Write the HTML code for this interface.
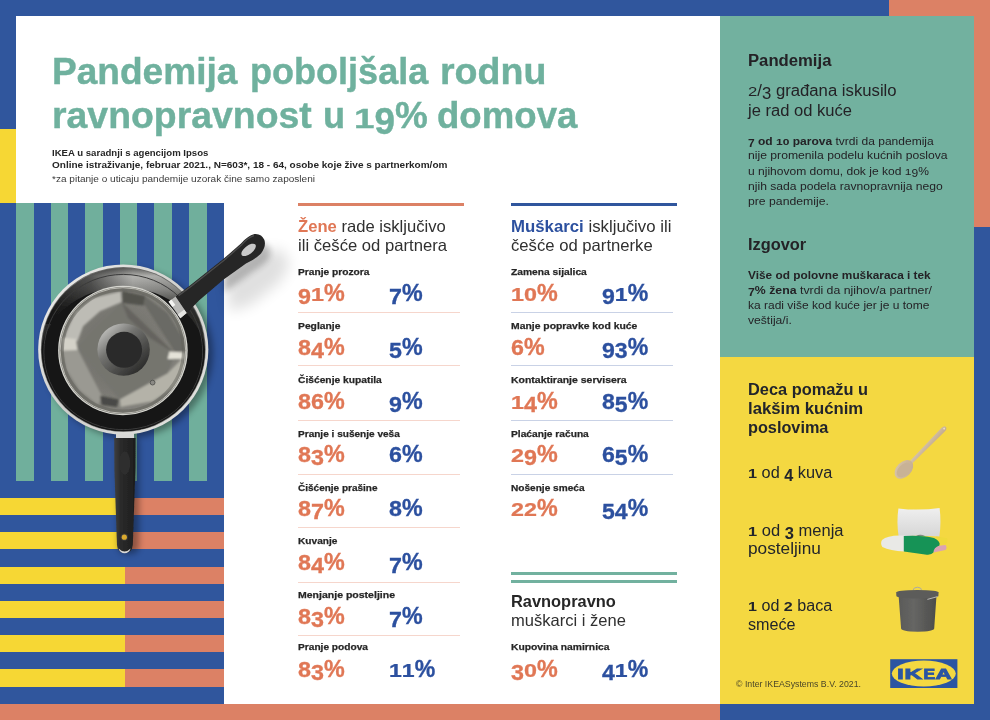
<!DOCTYPE html>
<html lang="sr">
<head>
<meta charset="utf-8">
<title>Pandemija poboljšala rodnu ravnopravnost u 19% domova</title>
<style>
html,body{margin:0;padding:0;background:#fff;}
#page{position:relative;width:990px;height:720px;overflow:hidden;background:#fff;font-family:"Liberation Sans",sans-serif;}
.b{position:absolute;}
.t{position:absolute;white-space:pre;line-height:1;transform-origin:0 0;}
svg{position:absolute;overflow:visible;}

</style>
</head>
<body>
<div id="page">
<!-- frame bands -->
<div class="b" style="left:0;top:0;width:889px;height:16px;background:#30569D"></div>
<div class="b" style="left:889px;top:0;width:101px;height:16px;background:#DC8165"></div>
<div class="b" style="left:974px;top:0;width:16px;height:227px;background:#DC8165"></div>
<div class="b" style="left:974px;top:227px;width:16px;height:493px;background:#30569D"></div>
<div class="b" style="left:0;top:704px;width:720px;height:16px;background:#DC8165"></div>
<div class="b" style="left:720px;top:704px;width:270px;height:16px;background:#30569D"></div>
<div class="b" style="left:0;top:0;width:16px;height:129px;background:#30569D"></div>
<div class="b" style="left:0;top:129px;width:16px;height:74px;background:#F6D734"></div>
<!-- right panels -->
<div class="b" style="left:720px;top:16px;width:254px;height:341px;background:#72B19F"></div>
<div class="b" style="left:720px;top:357px;width:254px;height:347px;background:#F4D841"></div>
<!-- striped block -->
<div class="b" style="left:0;top:203px;width:224px;height:501px;background:#30569D"></div>
<div class="b" style="left:16px;top:203px;width:190.7px;height:277.8px;background:repeating-linear-gradient(90deg,#70AF9C 0,#70AF9C 17.6px,transparent 17.6px,transparent 34.6px)"></div>
<div class="b" style="left:0;top:498px;width:125px;height:206px;background:repeating-linear-gradient(180deg,#F6D734 0,#F6D734 17.15px,transparent 17.15px,transparent 34.3px)"></div>
<div class="b" style="left:125px;top:498px;width:99px;height:206px;background:repeating-linear-gradient(180deg,#DC8165 0,#DC8165 17.15px,transparent 17.15px,transparent 34.3px)"></div>
<!-- column bars -->
<div class="b" style="left:297.7px;top:202.8px;width:166.1px;height:3.7px;background:#DC8165"></div>
<div class="b" style="left:510.7px;top:202.8px;width:166.2px;height:3.7px;background:#30569D"></div>
<div class="b" style="left:510.7px;top:571.7px;width:166.2px;height:3.8px;background:#72B19F"></div>
<div class="b" style="left:510.7px;top:579.7px;width:166.2px;height:3.8px;background:#72B19F"></div>
<!-- dividers -->
<div class="b" style="left:297.7px;top:312.10px;width:162.2px;height:1px;background:#F6D6CC"></div>
<div class="b" style="left:297.7px;top:365.10px;width:162.2px;height:1px;background:#F6D6CC"></div>
<div class="b" style="left:297.7px;top:420.30px;width:162.2px;height:1px;background:#F6D6CC"></div>
<div class="b" style="left:297.7px;top:473.90px;width:162.2px;height:1px;background:#F6D6CC"></div>
<div class="b" style="left:297.7px;top:527.00px;width:162.2px;height:1px;background:#F6D6CC"></div>
<div class="b" style="left:297.7px;top:581.90px;width:162.2px;height:1px;background:#F6D6CC"></div>
<div class="b" style="left:297.7px;top:634.80px;width:162.2px;height:1px;background:#F6D6CC"></div>
<div class="b" style="left:510.6px;top:312.10px;width:162.2px;height:1px;background:#C9D2E6"></div>
<div class="b" style="left:510.6px;top:365.10px;width:162.2px;height:1px;background:#C9D2E6"></div>
<div class="b" style="left:510.6px;top:420.30px;width:162.2px;height:1px;background:#C9D2E6"></div>
<div class="b" style="left:510.6px;top:473.90px;width:162.2px;height:1px;background:#C9D2E6"></div>
<!-- cookware illustration -->
<svg class="art" style="left:0;top:0" width="990" height="720" viewBox="0 0 990 720" aria-hidden="true">
<defs>
  <filter id="blur6" x="-50%" y="-50%" width="200%" height="200%"><feGaussianBlur stdDeviation="7"/></filter>
  <filter id="blur3" x="-50%" y="-50%" width="200%" height="200%"><feGaussianBlur stdDeviation="3"/></filter>
  <filter id="blur1" x="-20%" y="-20%" width="140%" height="140%"><feGaussianBlur stdDeviation="1.2"/></filter>
  <filter id="soft" x="-5%" y="-5%" width="110%" height="110%"><feGaussianBlur stdDeviation="0.45"/></filter>
  <linearGradient id="rimG" x1="0" y1="0" x2="1" y2="1">
    <stop offset="0" stop-color="#f1f1ef"/><stop offset=".5" stop-color="#cfcfcc"/><stop offset="1" stop-color="#e6e6e3"/>
  </linearGradient>
  <linearGradient id="wallG" x1="0" y1="0" x2="0" y2="1">
    <stop offset="0" stop-color="#5f5f5d"/><stop offset=".05" stop-color="#b4b4b1"/><stop offset=".13" stop-color="#8e8e8b"/><stop offset=".26" stop-color="#2e2e2d"/><stop offset="1" stop-color="#141414"/>
  </linearGradient>
  <linearGradient id="wallS" x1="0" y1="0" x2="1" y2="0">
    <stop offset="0" stop-color="#141414" stop-opacity=".9"/><stop offset=".3" stop-color="#141414" stop-opacity=".6"/><stop offset=".55" stop-color="#141414" stop-opacity="0"/><stop offset="1" stop-color="#141414" stop-opacity=".15"/>
  </linearGradient>
  <radialGradient id="potG" cx=".45" cy=".48" r=".6">
    <stop offset="0" stop-color="#6d6c67"/><stop offset=".6" stop-color="#7b7a74"/><stop offset=".9" stop-color="#85847e"/><stop offset="1" stop-color="#8f8e88"/>
  </radialGradient>
  <linearGradient id="knobG" x1="0.15" y1="0.1" x2="0.85" y2="0.9">
    <stop offset="0" stop-color="#bdbdba"/><stop offset=".35" stop-color="#737370"/><stop offset="1" stop-color="#2a2a29"/>
  </linearGradient>
  <linearGradient id="hG" x1="0" y1="0" x2="1" y2="0">
    <stop offset="0" stop-color="#3f3f3f"/><stop offset=".3" stop-color="#2b2b2b"/><stop offset="1" stop-color="#1d1d1d"/>
  </linearGradient>
  <clipPath id="panClip"><circle cx="123.25" cy="349.5" r="81.6"/></clipPath>
  <clipPath id="potClip"><circle cx="122.9" cy="350.5" r="63.4"/></clipPath>
</defs>
<!-- shadows -->
<g filter="url(#blur6)" opacity=".12">
  <path d="M226 282 L246 266 L266 250 L282 250 L290 264 L280 282 L252 304 L230 312 Z" fill="#000"/>
</g>
<g filter="url(#blur3)" opacity=".24">
  <path d="M224 270 L247 251 Q254 243 262 243 Q268 244 270 250 Q271 257 266 262 Q260 267 252 272 L230 288 L224 292 Z" fill="#000"/>
</g>
<g filter="url(#blur3)" opacity=".35">
  <circle cx="128" cy="353" r="85" fill="#000"/>
  <rect x="118" y="436" width="21" height="118" rx="8" fill="#000"/>
</g>
<g filter="url(#soft)">
<!-- frying pan handle (vertical) -->
<rect x="116" y="432" width="18" height="7" fill="#d8d8d6"/>
<path d="M114.2 438 L135.6 438 L135.4 470 L132.8 545 Q132 553 124.8 553 Q117.6 553 117 545 L114.4 470 Z" fill="url(#hG)"/>
<path d="M118.5 548.5 Q124.6 554.5 130.7 548.5 Q129 553.2 124.6 553.2 Q120.2 553.2 118.5 548.5Z" fill="#d9d9d9"/>
<ellipse cx="124.8" cy="463" rx="5.4" ry="11.5" fill="#2f2f2f"/>
<circle cx="124.3" cy="537.2" r="3.6" fill="#3a3a3a"/>
<circle cx="124.3" cy="537.2" r="2.6" fill="#d9a92f"/>
<!-- frying pan -->
<circle cx="123.25" cy="349.5" r="85.1" fill="url(#rimG)"/>
<circle cx="123.25" cy="349.5" r="82.4" fill="#6a6a68"/>
<circle cx="123.25" cy="349.5" r="81.6" fill="url(#wallG)"/>
<g clip-path="url(#panClip)">
  <rect x="38" y="264" width="172" height="60" fill="url(#wallS)"/>
  <ellipse cx="123.25" cy="360.5" rx="83" ry="73" fill="#141414"/>
  <ellipse cx="123.25" cy="352" rx="79.4" ry="77.6" fill="none" stroke="#3b3b3b" stroke-width="1"/>
</g>
<!-- saucepan with glass lid -->
<circle cx="122.9" cy="350.5" r="64.8" fill="#d6d6d0"/>
<circle cx="122.9" cy="350.5" r="63.5" fill="url(#potG)"/>
<g clip-path="url(#potClip)">
  <g filter="url(#blur1)">
    <!-- inner wall: bright upper-left band, darker right side -->
    <path d="M66.3 331.9 L75.6 311.3 L92.5 298.1 L120.7 291.6 L121.6 301.9 L100 311.3 L83.1 326.3 L77.5 341.3 L64.4 339.4 Z" fill="#bdbcb5"/>
    <path d="M62.5 350.7 L77.5 348.8 L101.9 395.7 L98.2 405 L79.4 390 L66.3 369.4 Z" fill="#9a9992"/>
    <path d="M119.7 397.6 L167.6 373.2 L182.6 358.2 L184.5 365.7 L175.1 386.3 L152.6 401.3 L120.7 407 Z" fill="#b4b2a8"/>
    <path d="M122.5 291.6 L145 296.3 L167.6 313.1 L182.6 337.5 L184.5 350.7 L175.1 352.5 L145 305.6 L122.5 302.8 Z" fill="#6b6a65"/>
    <path d="M122.5 291 L145 296 L143.2 305.6 L122.5 302.8 Z" fill="#53524d"/>
    <!-- pot bottom seen through the glass -->
    <path d="M121.6 301.9 L175.1 353.5 L167.6 373.2 L119.7 399.4 L76.6 346.9 Z" fill="#75746e"/>
    <path d="M121.6 301.9 L175.1 353.5 L150 338 L128 318 Z" fill="#65645e"/>
    <path d="M100 395.7 L118.8 399.4 L116.9 407 L101.9 405 Z" fill="#4a4a46"/>
    <path d="M169.4 351.6 L184.5 352.5 L184.5 359.1 L167.6 359.1 Z" fill="#e4e2d8"/>
    <path d="M62.5 337.5 L76 339 L77.5 350 L62.5 350.7 Z" fill="#d4d2c8"/>
  </g>
  <circle cx="122.9" cy="350.5" r="60.8" fill="none" stroke="#5b5a55" stroke-width="3.6" opacity=".45"/>
  <circle cx="122.9" cy="350.5" r="62.8" fill="none" stroke="#c9c8c0" stroke-width="1" opacity=".8"/>
</g>
<circle cx="152.6" cy="382.6" r="2.4" fill="#8b8a85" stroke="#4a4a48" stroke-width=".8"/>
<!-- knob -->
<circle cx="123.6" cy="349.6" r="26.2" fill="url(#knobG)"/>
<circle cx="124.1" cy="349.8" r="18" fill="#2a2a2a"/>
<!-- saucepan handle -->
<path d="M168.6 301.8 L176 296.2 L187.2 312.6 L180.4 318.2 Z" fill="#b9b9b7"/>
<path d="M168.6 301.8 L171.4 299.6 L175.4 305 L172.4 307 Z" fill="#f4f4f2"/>
<path d="M177.6 314.4 L184.4 309.4 L187.2 312.6 L180.4 318.2 Z" fill="#e4e4e2"/>
<path d="M175.6 296.4 L190.6 285.0 L223.6 258.8 L241 243.4 Q247.5 236 254.5 234 Q261.6 233.4 264.4 240 Q266.4 246.6 261 253.4 Q256 258.6 246 263.6 L223.6 279.6 L199 300.6 L186.8 313 Z" fill="#252525"/>
<path d="M178.5 295.6 L191.6 286.0 L224.4 260 L242 244.4 Q248 237.4 254 235.6" fill="none" stroke="#4c4c4c" stroke-width="1.4"/>
<ellipse cx="248.6" cy="249.9" rx="8.6" ry="4.1" transform="rotate(-38 248.6 249.9)" fill="#c9c9c9"/>
</g>
</svg>
<!-- small product pictures + logo -->
<svg class="art" style="left:0;top:0" width="990" height="720" viewBox="0 0 990 720" aria-hidden="true">
<defs>
  <filter id="isoft" x="-10%" y="-10%" width="120%" height="120%"><feGaussianBlur stdDeviation="0.5"/></filter>
  <linearGradient id="spG" x1="0" y1="0" x2="1" y2="1"><stop offset="0" stop-color="#d9c6ac"/><stop offset="1" stop-color="#c3ab8e"/></linearGradient>
  <linearGradient id="pilG" x1="0" y1="0" x2="0" y2="1"><stop offset="0" stop-color="#efefef"/><stop offset="1" stop-color="#d6d6d6"/></linearGradient>
  <linearGradient id="binG" x1="0" y1="0" x2="1" y2="0"><stop offset="0" stop-color="#5a5a58"/><stop offset=".4" stop-color="#666664"/><stop offset="1" stop-color="#4c4c4a"/></linearGradient>
</defs>
<g filter="url(#isoft)">
  <!-- wooden spoon -->
  <g transform="rotate(-45.5 903.9 469.4)">
    <path d="M910 468 L960 467.1 Q963.6 467.2 963.6 469.5 Q963.6 471.8 960 471.9 L910 471 Z" fill="url(#spG)"/>
    <ellipse cx="903.9" cy="469.4" rx="11" ry="7.4" fill="url(#spG)"/>
    <ellipse cx="903.4" cy="469.8" rx="8.6" ry="5.4" fill="#c8b296"/>
    <circle cx="961.2" cy="469.5" r="1" fill="#eadcc6"/>
  </g>
  <!-- pillow and bed linen -->
  <path d="M898.4 508.4 Q919 511 939.6 508 Q941.4 522 939.4 536.6 Q919 535 898.6 536.4 Q896.4 522 898.4 508.4Z" fill="url(#pilG)"/>
  <path d="M882 540 Q888 534.6 904.4 535.6 L904.4 551.4 Q890 551 882.4 547 Q880 543.6 882 540Z" fill="#e9e9e6"/>
  <path d="M936 536.6 L946.6 538 Q948.6 540.6 946 544 L938 545 Z" fill="#efd93b"/>
  <path d="M932 546.4 L945.6 545 Q947.6 548 945.4 550 L933.6 552.4 Z" fill="#dba3b4"/>
  <path d="M903.8 536 Q922 535 934 538 Q941 541.6 939.4 545.6 Q933.6 547.6 933.4 552.6 Q931.4 555.4 925 554.4 L903.8 551.4 Z" fill="#169357"/>
  <path d="M916 536 Q920 533.6 925 535.8 Z" fill="#6a7f73"/>
  <!-- waste bin -->
  <path d="M898.7 597 L936.4 597 L934.2 628.6 Q934 631.6 917.6 631.8 Q901.4 631.6 901.1 628.6 Z" fill="url(#binG)"/>
  <path d="M912.9 590.6 Q913.4 587.2 917.4 587.2 Q921.4 587.2 921.8 590.6" fill="none" stroke="#a9a9a5" stroke-width="1"/>
  <path d="M896.2 592.6 Q896.6 590.2 917.4 590 Q938.2 590.2 938.6 592.6 L938.4 596 Q938 598.2 917.4 598.4 Q896.8 598.2 896.4 596 Z" fill="#5c5c5a"/>
  <path d="M927.4 599.4 L937.6 596.6" stroke="#b9b9b6" stroke-width="1"/>
</g>
<!-- IKEA logo -->
<rect x="890.2" y="659.2" width="67.2" height="28.8" fill="#2B55A2"/>
<ellipse cx="923.8" cy="673.6" rx="32" ry="13" fill="#F4D841"/>
<text font-family="'Liberation Sans',sans-serif" font-weight="700" font-size="14.4" fill="#2B55A2" stroke="#2B55A2" stroke-width="0.9" stroke-linejoin="miter"><tspan x="897.3" y="678.8" textLength="6.4" lengthAdjust="spacingAndGlyphs">I</tspan><tspan x="904.6" y="678.8" textLength="17.6" lengthAdjust="spacingAndGlyphs">K</tspan><tspan x="923.6" y="678.8" textLength="11.6" lengthAdjust="spacingAndGlyphs">E</tspan><tspan x="935.4" y="678.8" textLength="16.2" lengthAdjust="spacingAndGlyphs">A</tspan></text>
</svg>

<div class="t " style="left:52.40px;top:53px;font-size:37px;transform:scaleX(1.0017)"><span style="font-weight:700;color:#6FB19E;-webkit-text-stroke:0.4px #6FB19E">Pandemija</span></div>
<div class="t " style="left:249.85px;top:53px;font-size:37px;transform:scaleX(0.9741)"><span style="font-weight:700;color:#6FB19E;-webkit-text-stroke:0.4px #6FB19E">poboljšala</span></div>
<div class="t " style="left:439.77px;top:53px;font-size:37px;transform:scaleX(1.0148)"><span style="font-weight:700;color:#6FB19E;-webkit-text-stroke:0.4px #6FB19E">rodnu</span></div>
<div class="t " style="left:52.38px;top:97px;font-size:37px;transform:scaleX(1.0106)"><span style="font-weight:700;color:#6FB19E;-webkit-text-stroke:0.4px #6FB19E">ravnopravnost</span></div>
<div class="t " style="left:322.84px;top:97px;font-size:37px;transform:scaleX(0.9789)"><span style="font-weight:700;color:#6FB19E;-webkit-text-stroke:0.4px #6FB19E">u</span></div>
<div class="t " style="left:353.51px;top:97px;font-size:37px;transform:scaleX(0.9964)"><span style="font-weight:700;color:#6FB19E;-webkit-text-stroke:0.4px #6FB19E;display:inline-block;transform-origin:0 84.65%;transform:scaleY(0.77)">1</span><span style="font-weight:700;color:#6FB19E;-webkit-text-stroke:0.4px #6FB19E;display:inline-block;transform:translateY(6.29px)">9</span><span style="font-weight:700;color:#6FB19E;-webkit-text-stroke:0.4px #6FB19E">%</span></div>
<div class="t " style="left:437.21px;top:97px;font-size:37px;transform:scaleX(0.9895)"><span style="font-weight:700;color:#6FB19E;-webkit-text-stroke:0.4px #6FB19E">domova</span></div>
<div class="t " style="left:52.00px;top:148px;font-size:9.7px;transform:scaleX(0.9904)"><span style="font-weight:700;color:#262626">IKEA u saradnji s agencijom Ipsos</span></div>
<div class="t " style="left:52.00px;top:160px;font-size:9.7px;transform:scaleX(1.0321)"><span style="font-weight:700;color:#262626">Online istraživanje, februar 2021., N=603*, 18 - 64, osobe koje žive s partnerkom/om</span></div>
<div class="t " style="left:52.00px;top:174px;font-size:9.7px;transform:scaleX(1.0369)"><span style="color:#3a3a3a">*za pitanje o uticaju pandemije uzorak čine samo zaposleni</span></div>
<div class="t " style="left:297.70px;top:218px;font-size:16.5px;transform:scaleX(1.0066)"><span style="font-weight:700;color:#E07755">Žene</span><span style="color:#303030"> rade isključivo</span></div>
<div class="t " style="left:297.70px;top:237px;font-size:16.5px;transform:scaleX(1.0090)"><span style="color:#303030">ili češće od partnera</span></div>
<div class="t lab" style="left:297.70px;top:267px;font-size:9.8px;transform:scaleX(1.0407)"><span style="font-weight:700;color:#262626;-webkit-text-stroke:0.25px #262626">Pranje prozora</span></div>
<div class="t num" style="left:297.70px;top:283px;font-size:21px;transform:scaleX(1.1103)"><span style="font-weight:700;color:#E07755;display:inline-block;transform-origin:0 84.65%;transform:translateY(3.0px) scaleY(1.05);-webkit-text-stroke:0.3px #E07755">9</span><span style="font-weight:700;color:#E07755;display:inline-block;transform-origin:0 84.65%;transform:translateY(0px) scaleY(0.83);-webkit-text-stroke:0.3px #E07755">1</span><span style="font-weight:700;color:#E07755;display:inline-block;transform-origin:0 84.65%;transform:translateY(0px) scaleY(1.12);-webkit-text-stroke:0.3px #E07755">%</span></div>
<div class="t num" style="left:389.30px;top:283px;font-size:21px;transform:scaleX(1.1062)"><span style="font-weight:700;color:#2C509F;display:inline-block;transform-origin:0 84.65%;transform:translateY(3.0px) scaleY(1.05);-webkit-text-stroke:0.3px #2C509F">7</span><span style="font-weight:700;color:#2C509F;display:inline-block;transform-origin:0 84.65%;transform:translateY(0px) scaleY(1.12);-webkit-text-stroke:0.3px #2C509F">%</span></div>
<div class="t lab" style="left:297.70px;top:321px;font-size:9.8px;transform:scaleX(1.0522)"><span style="font-weight:700;color:#262626;-webkit-text-stroke:0.25px #262626">Peglanje</span></div>
<div class="t num" style="left:297.70px;top:337px;font-size:21px;transform:scaleX(1.1103)"><span style="font-weight:700;color:#E07755;display:inline-block;transform-origin:0 84.65%;transform:translateY(0px) scaleY(1.03);-webkit-text-stroke:0.3px #E07755">8</span><span style="font-weight:700;color:#E07755;display:inline-block;transform-origin:0 84.65%;transform:translateY(3.0px) scaleY(1.05);-webkit-text-stroke:0.3px #E07755">4</span><span style="font-weight:700;color:#E07755;display:inline-block;transform-origin:0 84.65%;transform:translateY(0px) scaleY(1.12);-webkit-text-stroke:0.3px #E07755">%</span></div>
<div class="t num" style="left:389.30px;top:337px;font-size:21px;transform:scaleX(1.1062)"><span style="font-weight:700;color:#2C509F;display:inline-block;transform-origin:0 84.65%;transform:translateY(3.0px) scaleY(1.05);-webkit-text-stroke:0.3px #2C509F">5</span><span style="font-weight:700;color:#2C509F;display:inline-block;transform-origin:0 84.65%;transform:translateY(0px) scaleY(1.12);-webkit-text-stroke:0.3px #2C509F">%</span></div>
<div class="t lab" style="left:297.70px;top:375px;font-size:9.8px;transform:scaleX(1.0469)"><span style="font-weight:700;color:#262626;-webkit-text-stroke:0.25px #262626">Čišćenje kupatila</span></div>
<div class="t num" style="left:297.70px;top:391px;font-size:21px;transform:scaleX(1.1103)"><span style="font-weight:700;color:#E07755;display:inline-block;transform-origin:0 84.65%;transform:translateY(0px) scaleY(1.03);-webkit-text-stroke:0.3px #E07755">8</span><span style="font-weight:700;color:#E07755;display:inline-block;transform-origin:0 84.65%;transform:translateY(0px) scaleY(1.03);-webkit-text-stroke:0.3px #E07755">6</span><span style="font-weight:700;color:#E07755;display:inline-block;transform-origin:0 84.65%;transform:translateY(0px) scaleY(1.12);-webkit-text-stroke:0.3px #E07755">%</span></div>
<div class="t num" style="left:389.30px;top:391px;font-size:21px;transform:scaleX(1.1062)"><span style="font-weight:700;color:#2C509F;display:inline-block;transform-origin:0 84.65%;transform:translateY(3.0px) scaleY(1.05);-webkit-text-stroke:0.3px #2C509F">9</span><span style="font-weight:700;color:#2C509F;display:inline-block;transform-origin:0 84.65%;transform:translateY(0px) scaleY(1.12);-webkit-text-stroke:0.3px #2C509F">%</span></div>
<div class="t lab" style="left:297.70px;top:429px;font-size:9.8px;transform:scaleX(1.0270)"><span style="font-weight:700;color:#262626;-webkit-text-stroke:0.25px #262626">Pranje i sušenje veša</span></div>
<div class="t num" style="left:297.70px;top:444px;font-size:21px;transform:scaleX(1.1103)"><span style="font-weight:700;color:#E07755;display:inline-block;transform-origin:0 84.65%;transform:translateY(0px) scaleY(1.03);-webkit-text-stroke:0.3px #E07755">8</span><span style="font-weight:700;color:#E07755;display:inline-block;transform-origin:0 84.65%;transform:translateY(3.0px) scaleY(1.05);-webkit-text-stroke:0.3px #E07755">3</span><span style="font-weight:700;color:#E07755;display:inline-block;transform-origin:0 84.65%;transform:translateY(0px) scaleY(1.12);-webkit-text-stroke:0.3px #E07755">%</span></div>
<div class="t num" style="left:389.30px;top:444px;font-size:21px;transform:scaleX(1.1062)"><span style="font-weight:700;color:#2C509F;display:inline-block;transform-origin:0 84.65%;transform:translateY(0px) scaleY(1.03);-webkit-text-stroke:0.3px #2C509F">6</span><span style="font-weight:700;color:#2C509F;display:inline-block;transform-origin:0 84.65%;transform:translateY(0px) scaleY(1.12);-webkit-text-stroke:0.3px #2C509F">%</span></div>
<div class="t lab" style="left:297.70px;top:483px;font-size:9.8px;transform:scaleX(1.0209)"><span style="font-weight:700;color:#262626;-webkit-text-stroke:0.25px #262626">Čišćenje prašine</span></div>
<div class="t num" style="left:297.70px;top:498px;font-size:21px;transform:scaleX(1.1103)"><span style="font-weight:700;color:#E07755;display:inline-block;transform-origin:0 84.65%;transform:translateY(0px) scaleY(1.03);-webkit-text-stroke:0.3px #E07755">8</span><span style="font-weight:700;color:#E07755;display:inline-block;transform-origin:0 84.65%;transform:translateY(3.0px) scaleY(1.05);-webkit-text-stroke:0.3px #E07755">7</span><span style="font-weight:700;color:#E07755;display:inline-block;transform-origin:0 84.65%;transform:translateY(0px) scaleY(1.12);-webkit-text-stroke:0.3px #E07755">%</span></div>
<div class="t num" style="left:389.30px;top:498px;font-size:21px;transform:scaleX(1.1062)"><span style="font-weight:700;color:#2C509F;display:inline-block;transform-origin:0 84.65%;transform:translateY(0px) scaleY(1.03);-webkit-text-stroke:0.3px #2C509F">8</span><span style="font-weight:700;color:#2C509F;display:inline-block;transform-origin:0 84.65%;transform:translateY(0px) scaleY(1.12);-webkit-text-stroke:0.3px #2C509F">%</span></div>
<div class="t lab" style="left:297.70px;top:536px;font-size:9.8px;transform:scaleX(1.0334)"><span style="font-weight:700;color:#262626;-webkit-text-stroke:0.25px #262626">Kuvanje</span></div>
<div class="t num" style="left:297.70px;top:552px;font-size:21px;transform:scaleX(1.1103)"><span style="font-weight:700;color:#E07755;display:inline-block;transform-origin:0 84.65%;transform:translateY(0px) scaleY(1.03);-webkit-text-stroke:0.3px #E07755">8</span><span style="font-weight:700;color:#E07755;display:inline-block;transform-origin:0 84.65%;transform:translateY(3.0px) scaleY(1.05);-webkit-text-stroke:0.3px #E07755">4</span><span style="font-weight:700;color:#E07755;display:inline-block;transform-origin:0 84.65%;transform:translateY(0px) scaleY(1.12);-webkit-text-stroke:0.3px #E07755">%</span></div>
<div class="t num" style="left:389.30px;top:552px;font-size:21px;transform:scaleX(1.1062)"><span style="font-weight:700;color:#2C509F;display:inline-block;transform-origin:0 84.65%;transform:translateY(3.0px) scaleY(1.05);-webkit-text-stroke:0.3px #2C509F">7</span><span style="font-weight:700;color:#2C509F;display:inline-block;transform-origin:0 84.65%;transform:translateY(0px) scaleY(1.12);-webkit-text-stroke:0.3px #2C509F">%</span></div>
<div class="t lab" style="left:297.70px;top:590px;font-size:9.8px;transform:scaleX(1.0733)"><span style="font-weight:700;color:#262626;-webkit-text-stroke:0.25px #262626">Menjanje posteljine</span></div>
<div class="t num" style="left:297.70px;top:606px;font-size:21px;transform:scaleX(1.1103)"><span style="font-weight:700;color:#E07755;display:inline-block;transform-origin:0 84.65%;transform:translateY(0px) scaleY(1.03);-webkit-text-stroke:0.3px #E07755">8</span><span style="font-weight:700;color:#E07755;display:inline-block;transform-origin:0 84.65%;transform:translateY(3.0px) scaleY(1.05);-webkit-text-stroke:0.3px #E07755">3</span><span style="font-weight:700;color:#E07755;display:inline-block;transform-origin:0 84.65%;transform:translateY(0px) scaleY(1.12);-webkit-text-stroke:0.3px #E07755">%</span></div>
<div class="t num" style="left:389.30px;top:606px;font-size:21px;transform:scaleX(1.1062)"><span style="font-weight:700;color:#2C509F;display:inline-block;transform-origin:0 84.65%;transform:translateY(3.0px) scaleY(1.05);-webkit-text-stroke:0.3px #2C509F">7</span><span style="font-weight:700;color:#2C509F;display:inline-block;transform-origin:0 84.65%;transform:translateY(0px) scaleY(1.12);-webkit-text-stroke:0.3px #2C509F">%</span></div>
<div class="t lab" style="left:297.70px;top:642px;font-size:9.8px;transform:scaleX(1.0368)"><span style="font-weight:700;color:#262626;-webkit-text-stroke:0.25px #262626">Pranje podova</span></div>
<div class="t num" style="left:297.70px;top:659px;font-size:21px;transform:scaleX(1.1103)"><span style="font-weight:700;color:#E07755;display:inline-block;transform-origin:0 84.65%;transform:translateY(0px) scaleY(1.03);-webkit-text-stroke:0.3px #E07755">8</span><span style="font-weight:700;color:#E07755;display:inline-block;transform-origin:0 84.65%;transform:translateY(3.0px) scaleY(1.05);-webkit-text-stroke:0.3px #E07755">3</span><span style="font-weight:700;color:#E07755;display:inline-block;transform-origin:0 84.65%;transform:translateY(0px) scaleY(1.12);-webkit-text-stroke:0.3px #E07755">%</span></div>
<div class="t num" style="left:389.30px;top:659px;font-size:21px;transform:scaleX(1.0984)"><span style="font-weight:700;color:#2C509F;display:inline-block;transform-origin:0 84.65%;transform:translateY(0px) scaleY(0.83);-webkit-text-stroke:0.3px #2C509F">1</span><span style="font-weight:700;color:#2C509F;display:inline-block;transform-origin:0 84.65%;transform:translateY(0px) scaleY(0.83);-webkit-text-stroke:0.3px #2C509F">1</span><span style="font-weight:700;color:#2C509F;display:inline-block;transform-origin:0 84.65%;transform:translateY(0px) scaleY(1.12);-webkit-text-stroke:0.3px #2C509F">%</span></div>
<div class="t " style="left:510.70px;top:218px;font-size:16.5px;transform:scaleX(1.0169)"><span style="font-weight:700;color:#2C509F">Muškarci</span><span style="color:#303030"> isključivo ili</span></div>
<div class="t " style="left:510.70px;top:237px;font-size:16.5px;transform:scaleX(1.0097)"><span style="color:#303030">češće od partnerke</span></div>
<div class="t lab" style="left:510.70px;top:267px;font-size:9.8px;transform:scaleX(1.0464)"><span style="font-weight:700;color:#262626;-webkit-text-stroke:0.25px #262626">Zamena sijalica</span></div>
<div class="t num" style="left:510.70px;top:283px;font-size:21px;transform:scaleX(1.1103)"><span style="font-weight:700;color:#E07755;display:inline-block;transform-origin:0 84.65%;transform:translateY(0px) scaleY(0.83);-webkit-text-stroke:0.3px #E07755">1</span><span style="font-weight:700;color:#E07755;display:inline-block;transform-origin:0 84.65%;transform:translateY(0px) scaleY(0.83);-webkit-text-stroke:0.3px #E07755">0</span><span style="font-weight:700;color:#E07755;display:inline-block;transform-origin:0 84.65%;transform:translateY(0px) scaleY(1.12);-webkit-text-stroke:0.3px #E07755">%</span></div>
<div class="t num" style="left:602.40px;top:283px;font-size:21px;transform:scaleX(1.0984)"><span style="font-weight:700;color:#2C509F;display:inline-block;transform-origin:0 84.65%;transform:translateY(3.0px) scaleY(1.05);-webkit-text-stroke:0.3px #2C509F">9</span><span style="font-weight:700;color:#2C509F;display:inline-block;transform-origin:0 84.65%;transform:translateY(0px) scaleY(0.83);-webkit-text-stroke:0.3px #2C509F">1</span><span style="font-weight:700;color:#2C509F;display:inline-block;transform-origin:0 84.65%;transform:translateY(0px) scaleY(1.12);-webkit-text-stroke:0.3px #2C509F">%</span></div>
<div class="t lab" style="left:510.70px;top:321px;font-size:9.8px;transform:scaleX(1.0591)"><span style="font-weight:700;color:#262626;-webkit-text-stroke:0.25px #262626">Manje popravke kod kuće</span></div>
<div class="t num" style="left:510.70px;top:337px;font-size:21px;transform:scaleX(1.1062)"><span style="font-weight:700;color:#E07755;display:inline-block;transform-origin:0 84.65%;transform:translateY(0px) scaleY(1.03);-webkit-text-stroke:0.3px #E07755">6</span><span style="font-weight:700;color:#E07755;display:inline-block;transform-origin:0 84.65%;transform:translateY(0px) scaleY(1.12);-webkit-text-stroke:0.3px #E07755">%</span></div>
<div class="t num" style="left:602.40px;top:337px;font-size:21px;transform:scaleX(1.0984)"><span style="font-weight:700;color:#2C509F;display:inline-block;transform-origin:0 84.65%;transform:translateY(3.0px) scaleY(1.05);-webkit-text-stroke:0.3px #2C509F">9</span><span style="font-weight:700;color:#2C509F;display:inline-block;transform-origin:0 84.65%;transform:translateY(3.0px) scaleY(1.05);-webkit-text-stroke:0.3px #2C509F">3</span><span style="font-weight:700;color:#2C509F;display:inline-block;transform-origin:0 84.65%;transform:translateY(0px) scaleY(1.12);-webkit-text-stroke:0.3px #2C509F">%</span></div>
<div class="t lab" style="left:510.70px;top:375px;font-size:9.8px;transform:scaleX(1.0676)"><span style="font-weight:700;color:#262626;-webkit-text-stroke:0.25px #262626">Kontaktiranje servisera</span></div>
<div class="t num" style="left:510.70px;top:391px;font-size:21px;transform:scaleX(1.1103)"><span style="font-weight:700;color:#E07755;display:inline-block;transform-origin:0 84.65%;transform:translateY(0px) scaleY(0.83);-webkit-text-stroke:0.3px #E07755">1</span><span style="font-weight:700;color:#E07755;display:inline-block;transform-origin:0 84.65%;transform:translateY(3.0px) scaleY(1.05);-webkit-text-stroke:0.3px #E07755">4</span><span style="font-weight:700;color:#E07755;display:inline-block;transform-origin:0 84.65%;transform:translateY(0px) scaleY(1.12);-webkit-text-stroke:0.3px #E07755">%</span></div>
<div class="t num" style="left:602.40px;top:391px;font-size:21px;transform:scaleX(1.0984)"><span style="font-weight:700;color:#2C509F;display:inline-block;transform-origin:0 84.65%;transform:translateY(0px) scaleY(1.03);-webkit-text-stroke:0.3px #2C509F">8</span><span style="font-weight:700;color:#2C509F;display:inline-block;transform-origin:0 84.65%;transform:translateY(3.0px) scaleY(1.05);-webkit-text-stroke:0.3px #2C509F">5</span><span style="font-weight:700;color:#2C509F;display:inline-block;transform-origin:0 84.65%;transform:translateY(0px) scaleY(1.12);-webkit-text-stroke:0.3px #2C509F">%</span></div>
<div class="t lab" style="left:510.70px;top:429px;font-size:9.8px;transform:scaleX(1.0428)"><span style="font-weight:700;color:#262626;-webkit-text-stroke:0.25px #262626">Plaćanje računa</span></div>
<div class="t num" style="left:510.70px;top:444px;font-size:21px;transform:scaleX(1.1103)"><span style="font-weight:700;color:#E07755;display:inline-block;transform-origin:0 84.65%;transform:translateY(0px) scaleY(0.83);-webkit-text-stroke:0.3px #E07755">2</span><span style="font-weight:700;color:#E07755;display:inline-block;transform-origin:0 84.65%;transform:translateY(3.0px) scaleY(1.05);-webkit-text-stroke:0.3px #E07755">9</span><span style="font-weight:700;color:#E07755;display:inline-block;transform-origin:0 84.65%;transform:translateY(0px) scaleY(1.12);-webkit-text-stroke:0.3px #E07755">%</span></div>
<div class="t num" style="left:602.40px;top:444px;font-size:21px;transform:scaleX(1.0984)"><span style="font-weight:700;color:#2C509F;display:inline-block;transform-origin:0 84.65%;transform:translateY(0px) scaleY(1.03);-webkit-text-stroke:0.3px #2C509F">6</span><span style="font-weight:700;color:#2C509F;display:inline-block;transform-origin:0 84.65%;transform:translateY(3.0px) scaleY(1.05);-webkit-text-stroke:0.3px #2C509F">5</span><span style="font-weight:700;color:#2C509F;display:inline-block;transform-origin:0 84.65%;transform:translateY(0px) scaleY(1.12);-webkit-text-stroke:0.3px #2C509F">%</span></div>
<div class="t lab" style="left:510.70px;top:483px;font-size:9.8px;transform:scaleX(1.0302)"><span style="font-weight:700;color:#262626;-webkit-text-stroke:0.25px #262626">Nošenje smeća</span></div>
<div class="t num" style="left:510.70px;top:498px;font-size:21px;transform:scaleX(1.1103)"><span style="font-weight:700;color:#E07755;display:inline-block;transform-origin:0 84.65%;transform:translateY(0px) scaleY(0.83);-webkit-text-stroke:0.3px #E07755">2</span><span style="font-weight:700;color:#E07755;display:inline-block;transform-origin:0 84.65%;transform:translateY(0px) scaleY(0.83);-webkit-text-stroke:0.3px #E07755">2</span><span style="font-weight:700;color:#E07755;display:inline-block;transform-origin:0 84.65%;transform:translateY(0px) scaleY(1.12);-webkit-text-stroke:0.3px #E07755">%</span></div>
<div class="t num" style="left:602.40px;top:498px;font-size:21px;transform:scaleX(1.0984)"><span style="font-weight:700;color:#2C509F;display:inline-block;transform-origin:0 84.65%;transform:translateY(3.0px) scaleY(1.05);-webkit-text-stroke:0.3px #2C509F">5</span><span style="font-weight:700;color:#2C509F;display:inline-block;transform-origin:0 84.65%;transform:translateY(3.0px) scaleY(1.05);-webkit-text-stroke:0.3px #2C509F">4</span><span style="font-weight:700;color:#2C509F;display:inline-block;transform-origin:0 84.65%;transform:translateY(0px) scaleY(1.12);-webkit-text-stroke:0.3px #2C509F">%</span></div>
<div class="t " style="left:510.70px;top:593px;font-size:16.5px;transform:scaleX(0.9940)"><span style="font-weight:700;color:#262626">Ravnopravno</span></div>
<div class="t " style="left:510.70px;top:612px;font-size:16.5px;transform:scaleX(1.0024)"><span style="color:#303030">muškarci i žene</span></div>
<div class="t lab" style="left:510.70px;top:642px;font-size:9.8px;transform:scaleX(1.0519)"><span style="font-weight:700;color:#262626;-webkit-text-stroke:0.25px #262626">Kupovina namirnica</span></div>
<div class="t num" style="left:510.70px;top:659px;font-size:21px;transform:scaleX(1.1103)"><span style="font-weight:700;color:#E07755;display:inline-block;transform-origin:0 84.65%;transform:translateY(3.0px) scaleY(1.05);-webkit-text-stroke:0.3px #E07755">3</span><span style="font-weight:700;color:#E07755;display:inline-block;transform-origin:0 84.65%;transform:translateY(0px) scaleY(0.83);-webkit-text-stroke:0.3px #E07755">0</span><span style="font-weight:700;color:#E07755;display:inline-block;transform-origin:0 84.65%;transform:translateY(0px) scaleY(1.12);-webkit-text-stroke:0.3px #E07755">%</span></div>
<div class="t num" style="left:602.40px;top:659px;font-size:21px;transform:scaleX(1.0984)"><span style="font-weight:700;color:#2C509F;display:inline-block;transform-origin:0 84.65%;transform:translateY(3.0px) scaleY(1.05);-webkit-text-stroke:0.3px #2C509F">4</span><span style="font-weight:700;color:#2C509F;display:inline-block;transform-origin:0 84.65%;transform:translateY(0px) scaleY(0.83);-webkit-text-stroke:0.3px #2C509F">1</span><span style="font-weight:700;color:#2C509F;display:inline-block;transform-origin:0 84.65%;transform:translateY(0px) scaleY(1.12);-webkit-text-stroke:0.3px #2C509F">%</span></div>
<div class="t " style="left:748.00px;top:53px;font-size:16px;transform:scaleX(1.0421)"><span style="font-weight:700;color:#242226">Pandemija</span></div>
<div class="t " style="left:748.00px;top:83px;font-size:16px;transform:scaleX(1.0440)"><span style="color:#242226;display:inline-block;transform-origin:0 84.65%;transform:scaleY(0.77)">2</span><span style="color:#242226">/</span><span style="color:#242226;display:inline-block;transform:translateY(2.72px)">3</span><span style="color:#242226"> građana iskusilo</span></div>
<div class="t " style="left:748.00px;top:103px;font-size:16px;transform:scaleX(1.0337)"><span style="color:#242226">je rad od kuće</span></div>
<div class="t " style="left:748.00px;top:136px;font-size:11.5px;transform:scaleX(1.0446)"><span style="font-weight:700;color:#242226;display:inline-block;transform:translateY(1.96px)">7</span><span style="font-weight:700;color:#242226"> od </span><span style="font-weight:700;color:#242226;display:inline-block;transform-origin:0 84.65%;transform:scaleY(0.77)">1</span><span style="font-weight:700;color:#242226;display:inline-block;transform-origin:0 84.65%;transform:scaleY(0.77)">0</span><span style="font-weight:700;color:#242226"> parova</span><span style="color:#242226"> tvrdi da pandemija</span></div>
<div class="t " style="left:748.00px;top:150px;font-size:11.5px;transform:scaleX(1.0584)"><span style="color:#242226">nije promenila podelu kućnih poslova</span></div>
<div class="t " style="left:748.00px;top:166px;font-size:11.5px;transform:scaleX(1.0478)"><span style="color:#242226">u njihovom domu, dok je kod </span><span style="color:#242226;display:inline-block;transform-origin:0 84.65%;transform:scaleY(0.77)">1</span><span style="color:#242226;display:inline-block;transform:translateY(1.96px)">9</span><span style="color:#242226">%</span></div>
<div class="t " style="left:748.00px;top:181px;font-size:11.5px;transform:scaleX(1.0542)"><span style="color:#242226">njih sada podela ravnopravnija nego</span></div>
<div class="t " style="left:748.00px;top:196px;font-size:11.5px;transform:scaleX(1.0634)"><span style="color:#242226">pre pandemije.</span></div>
<div class="t " style="left:748.00px;top:237px;font-size:16px;transform:scaleX(1.0230)"><span style="font-weight:700;color:#242226">Izgovor</span></div>
<div class="t " style="left:748.00px;top:270px;font-size:11.5px;transform:scaleX(1.0294)"><span style="font-weight:700;color:#242226">Više od polovne muškaraca i tek</span></div>
<div class="t " style="left:748.00px;top:285px;font-size:11.5px;transform:scaleX(1.0693)"><span style="font-weight:700;color:#242226;display:inline-block;transform:translateY(1.96px)">7</span><span style="font-weight:700;color:#242226">% žena</span><span style="color:#242226"> tvrdi da njihov/a partner/</span></div>
<div class="t " style="left:748.00px;top:300px;font-size:11.5px;transform:scaleX(1.0434)"><span style="color:#242226">ka radi više kod kuće jer je u tome</span></div>
<div class="t " style="left:748.00px;top:315px;font-size:11.5px;transform:scaleX(1.0542)"><span style="color:#242226">veštija/i.</span></div>
<div class="t " style="left:748.00px;top:382px;font-size:16px;transform:scaleX(1.0225)"><span style="font-weight:700;color:#22252b">Deca pomažu u</span></div>
<div class="t " style="left:748.00px;top:401px;font-size:16px;transform:scaleX(1.0446)"><span style="font-weight:700;color:#22252b">lakšim kućnim</span></div>
<div class="t " style="left:748.00px;top:420px;font-size:16px;transform:scaleX(1.0159)"><span style="font-weight:700;color:#22252b">poslovima</span></div>
<div class="t " style="left:748.00px;top:465px;font-size:16px;transform:scaleX(1.0175)"><span style="font-weight:700;color:#22252b;display:inline-block;transform-origin:0 84.65%;transform:scaleY(0.77)">1</span><span style="color:#22252b"> od </span><span style="font-weight:700;color:#22252b;display:inline-block;transform:translateY(2.72px)">4</span><span style="color:#22252b"> kuva</span></div>
<div class="t " style="left:748.00px;top:523px;font-size:16px;transform:scaleX(1.0321)"><span style="font-weight:700;color:#22252b;display:inline-block;transform-origin:0 84.65%;transform:scaleY(0.77)">1</span><span style="color:#22252b"> od </span><span style="font-weight:700;color:#22252b;display:inline-block;transform:translateY(2.72px)">3</span><span style="color:#22252b"> menja</span></div>
<div class="t " style="left:748.00px;top:541px;font-size:16px;transform:scaleX(1.0768)"><span style="color:#22252b">posteljinu</span></div>
<div class="t " style="left:748.00px;top:598px;font-size:16px;transform:scaleX(1.0067)"><span style="font-weight:700;color:#22252b;display:inline-block;transform-origin:0 84.65%;transform:scaleY(0.77)">1</span><span style="color:#22252b"> od </span><span style="font-weight:700;color:#22252b;display:inline-block;transform-origin:0 84.65%;transform:scaleY(0.77)">2</span><span style="color:#22252b"> baca</span></div>
<div class="t " style="left:748.00px;top:617px;font-size:16px;transform:scaleX(1.0101)"><span style="color:#22252b">smeće</span></div>
<div class="t " style="left:736.40px;top:680px;font-size:9.3px;transform:scaleX(0.9426)"><span style="color:#4a4628">© Inter IKEASystems B.V. 2021.</span></div>
</div>
</body>
</html>
